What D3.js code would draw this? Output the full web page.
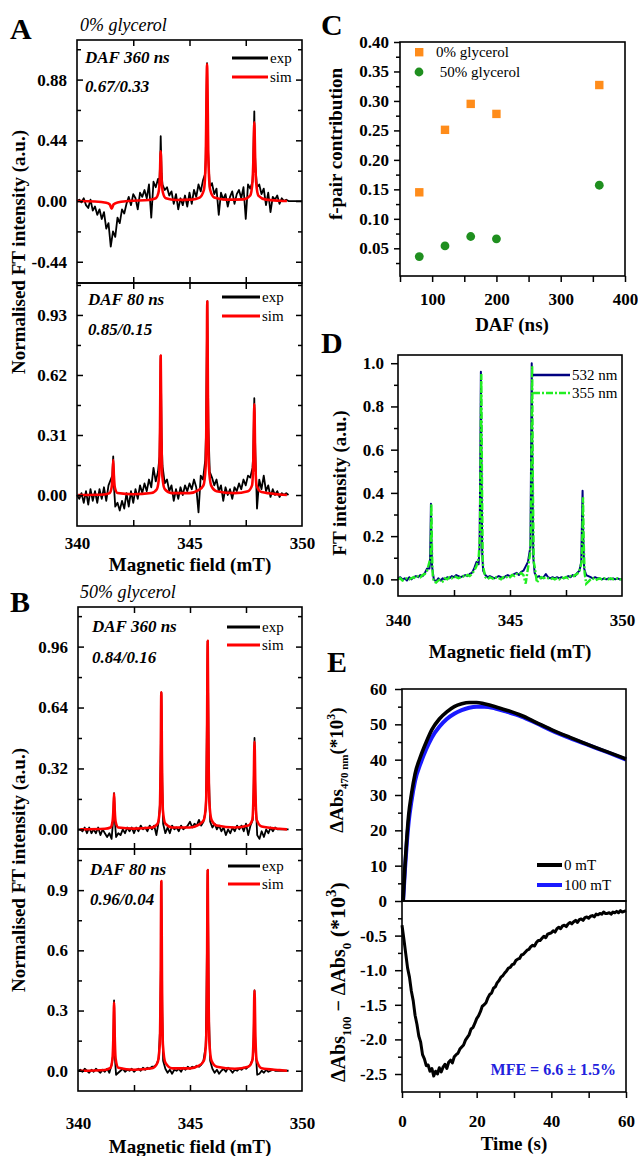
<!DOCTYPE html>
<html>
<head>
<meta charset="utf-8">
<title>FT-EPR spectra and MFE</title>
<script src="https://d3js.org/d3.v7.min.js"></script>
<style>
body { margin: 0; background: #fff; }
</style>
</head>
<body>
<script>
// ---------- data ----------
// exp spectra: values on a 0.1 mT grid from 340.0 to 350.0, plus the peak points
const expA1Grid = [
  0.00, 0.01, -0.01, 0.02, -0.03, -0.05, 0.01, -0.07, -0.04, -0.10,
  -0.06, -0.13, -0.08, -0.20, -0.16, -0.33, -0.22, -0.26, -0.12, -0.16,
  -0.06, -0.09, -0.02, 0.03, -0.03, 0.05, 0.02, -0.06, 0.06, 0.03,
  0.08, 0.02, 0.12, -0.12, 0.14, 0.10, 0.16, 0.30, 0.12, 0.08,
  0.10, 0.04, 0.07, -0.02, 0.05, -0.06, 0.02, -0.03, 0.04, -0.04,
  0.06, -0.02, 0.08, 0.03, 0.12, 0.07, 0.15, 0.20, 0.60, 0.10,
  0.13, 0.05, 0.09, -0.10, 0.06, 0.01, 0.05, -0.04, 0.03, 0.07,
  -0.02, 0.05, 0.08, 0.02, 0.10, -0.13, 0.12, 0.09, 0.14, 0.40,
  0.10, 0.12, 0.05, 0.09, -0.03, 0.06, -0.08, 0.03, 0.01, 0.04,
  -0.02, 0.02, 0.00, 0.01, 0.00, 0.00, 0.00, 0.00, 0.00, 0.00,
  0.00];
const expA1Peaks = [[343.66, 0.12], [343.72, 0.47], [343.76, 0.2], [345.72, 0.3], [345.78, 1.0], [345.83, 0.35],
  [347.82, 0.2], [347.88, 0.65], [347.93, 0.25]];
const simA1 = [[340.0, 0], [340.8, -0.003], [341.3, -0.012], [341.46, -0.025], [341.54, -0.055], [341.62, -0.025],
  [341.8, -0.01], [342.3, 0], [343.2, 0.008], [343.5, 0.02], [343.62, 0.06], [343.68, 0.16], [343.72, 0.36],
  [343.76, 0.16], [343.82, 0.06], [343.95, 0.02], [344.4, 0.008], [345.1, 0.01], [345.45, 0.025], [345.64, 0.08],
  [345.72, 0.3], [345.78, 0.99], [345.84, 0.3], [345.92, 0.08], [346.1, 0.025], [346.6, 0.01], [347.4, 0.012],
  [347.7, 0.04], [347.8, 0.14], [347.84, 0.3], [347.88, 0.57], [347.92, 0.3], [347.96, 0.14], [348.06, 0.04],
  [348.4, 0.01], [349.0, 0.002], [349.33, 0]];

const expA2Grid = [
  0.00, -0.02, 0.01, -0.04, 0.02, -0.05, 0.03, -0.03, 0.02, -0.04,
  0.03, -0.02, 0.04, -0.03, 0.05, 0.08, 0.17, -0.06, -0.04, -0.08,
  -0.03, -0.07, 0.01, -0.06, 0.02, -0.04, 0.03, -0.02, 0.05, 0.01,
  0.06, 0.02, 0.08, 0.04, 0.14, 0.07, 0.12, 0.45, 0.15, 0.06,
  0.08, 0.02, 0.05, -0.03, 0.03, -0.02, 0.04, 0.00, 0.05, 0.02,
  0.06, 0.03, 0.08, 0.04, -0.09, 0.10, 0.08, 0.18, 0.70, 0.12,
  0.09, 0.05, 0.08, 0.02, 0.05, -0.03, 0.04, 0.00, 0.03, -0.02,
  0.04, 0.02, 0.06, 0.03, 0.08, 0.05, 0.10, 0.09, 0.14, 0.35,
  -0.07, 0.08, 0.03, 0.10, 0.02, 0.05, -0.01, 0.03, 0.00, 0.02,
  -0.01, 0.01, 0.00, 0.01, 0.00, 0.00, 0.00, 0.00, 0.00, 0.00,
  0.00];
const expA2Peaks = [[341.57, 0.1], [341.61, 0.2], [341.64, 0.05], [343.67, 0.2], [343.72, 0.72], [343.76, 0.3],
  [345.73, 0.3], [345.79, 1.0], [345.84, 0.35], [347.83, 0.2], [347.88, 0.5], [347.93, 0.2]];
const simA2 = [[340.05, 0], [341.2, 0.003], [341.45, 0.01], [341.54, 0.04], [341.58, 0.1], [341.61, 0.18],
  [341.64, 0.1], [341.68, 0.04], [341.8, 0.01], [342.5, 0.004], [343.3, 0.01], [343.55, 0.03], [343.65, 0.1],
  [343.69, 0.35], [343.72, 0.72], [343.75, 0.35], [343.79, 0.1], [343.9, 0.03], [344.2, 0.01], [345.0, 0.01],
  [345.4, 0.025], [345.62, 0.05], [345.72, 0.15], [345.76, 0.5], [345.79, 1.0], [345.82, 0.5], [345.86, 0.15],
  [345.96, 0.05], [346.2, 0.02], [347.0, 0.01], [347.6, 0.02], [347.78, 0.05], [347.84, 0.2], [347.88, 0.47],
  [347.92, 0.2], [347.98, 0.05], [348.2, 0.015], [349.0, 0.003], [349.33, 0]];

const expB1Grid = [
  0.00, 0.00, -0.01, 0.01, -0.02, 0.01, -0.02, 0.00, -0.02, 0.01,
  -0.03, 0.00, -0.02, -0.04, -0.02, -0.05, 0.10, -0.04, -0.02, -0.03,
  0.00, -0.02, 0.01, -0.01, 0.01, -0.02, 0.01, -0.01, 0.02, 0.00,
  0.01, -0.01, 0.02, 0.00, 0.02, -0.03, 0.04, 0.45, 0.03, -0.02,
  0.01, -0.02, 0.02, 0.00, 0.01, -0.01, 0.02, 0.00, 0.01, 0.02,
  0.04, 0.01, 0.03, 0.02, 0.05, 0.02, 0.04, 0.10, 0.70, 0.04,
  0.01, 0.03, 0.00, 0.02, -0.01, 0.01, -0.03, 0.00, -0.02, 0.01,
  -0.01, 0.02, 0.00, 0.02, -0.01, 0.03, -0.03, 0.02, 0.05, 0.30,
  -0.03, -0.05, -0.01, -0.04, 0.00, -0.02, 0.01, -0.01, 0.01, 0.00,
  0.00, 0.00, 0.00, 0.00, 0.00, 0.00, 0.00, 0.00, 0.00, 0.00,
  0.00];
const expB1Peaks = [[341.57, 0.05], [341.61, 0.19], [341.65, 0.04], [343.67, 0.15], [343.72, 0.72], [343.76, 0.25],
  [345.73, 0.25], [345.79, 0.99], [345.84, 0.3], [347.83, 0.12], [347.88, 0.48], [347.92, 0.18]];
const simB1 = [[340.1, 0], [341.2, 0.003], [341.45, 0.01], [341.54, 0.04], [341.58, 0.1], [341.61, 0.19],
  [341.64, 0.1], [341.68, 0.04], [341.8, 0.01], [342.5, 0.004], [343.3, 0.01], [343.55, 0.03], [343.65, 0.1],
  [343.69, 0.35], [343.72, 0.72], [343.75, 0.35], [343.79, 0.1], [343.9, 0.03], [344.2, 0.01], [345.0, 0.01],
  [345.4, 0.025], [345.62, 0.05], [345.72, 0.15], [345.76, 0.5], [345.79, 0.99], [345.82, 0.5], [345.86, 0.15],
  [345.96, 0.05], [346.2, 0.02], [347.0, 0.01], [347.6, 0.02], [347.78, 0.05], [347.84, 0.2], [347.88, 0.46],
  [347.92, 0.2], [347.98, 0.05], [348.2, 0.015], [349.0, 0.003], [349.33, 0]];

const expB2Grid = [
  0.000, 0.005, -0.005, 0.010, 0.000, -0.010, 0.005, -0.005, 0.010, 0.000,
  -0.010, 0.005, -0.005, 0.010, -0.010, 0.030, 0.200, -0.020, -0.010, 0.000,
  0.010, -0.005, 0.005, 0.000, 0.010, -0.005, 0.005, 0.010, 0.000, 0.015,
  0.005, 0.015, 0.010, 0.020, 0.020, 0.030, 0.060, 0.500, 0.050, 0.010,
  -0.010, 0.005, -0.015, 0.005, 0.000, 0.010, -0.005, 0.015, 0.005, 0.020,
  0.010, 0.020, 0.015, 0.025, 0.020, 0.030, 0.050, 0.120, 0.600, 0.050,
  0.010, -0.010, 0.005, -0.015, 0.000, 0.010, -0.005, 0.015, 0.005, -0.010,
  0.005, 0.000, 0.010, 0.005, 0.015, 0.010, 0.020, 0.030, 0.060, 0.200,
  -0.020, -0.015, 0.000, -0.010, 0.005, -0.005, 0.000, 0.005, 0.000, 0.000,
  0.000, 0.000, 0.000, 0.000, 0.000, 0.000, 0.000, 0.000, 0.000, 0.000,
  0.000];
const expB2Peaks = [[341.57, 0.08], [341.61, 0.35], [341.65, 0.06], [343.67, 0.22], [343.72, 0.94], [343.76, 0.3],
  [345.73, 0.3], [345.79, 1.0], [345.84, 0.3], [347.83, 0.1], [347.88, 0.4], [347.92, 0.12]];
const simB2 = [[340.1, 0], [341.2, 0.004], [341.45, 0.015], [341.54, 0.06], [341.58, 0.17], [341.61, 0.34],
  [341.64, 0.17], [341.68, 0.06], [341.8, 0.015], [342.5, 0.005], [343.3, 0.012], [343.55, 0.04], [343.65, 0.13],
  [343.69, 0.45], [343.72, 0.945], [343.75, 0.45], [343.79, 0.13], [343.9, 0.04], [344.2, 0.012], [345.0, 0.012],
  [345.4, 0.025], [345.62, 0.05], [345.72, 0.15], [345.76, 0.5], [345.79, 1.0], [345.82, 0.5], [345.86, 0.15],
  [345.96, 0.05], [346.2, 0.02], [347.0, 0.01], [347.6, 0.02], [347.78, 0.05], [347.84, 0.17], [347.88, 0.40],
  [347.92, 0.17], [347.98, 0.05], [348.2, 0.012], [349.0, 0.003], [349.33, 0]];

// panel C
const dafNs = [80, 120, 160, 200, 360];
const fpair0 = [0.145, 0.251, 0.295, 0.278, 0.327];
const fpair50 = [0.036, 0.054, 0.070, 0.066, 0.157];

// panel D (same 0.1 mT grid)
const blueDGrid = [
  0.005, 0.010, 0.000, 0.005, -0.005, 0.010, 0.000, 0.010, 0.015, 0.010,
  0.020, 0.015, 0.030, 0.050, 0.050, 0.100, 0.000, -0.010, 0.005, -0.005,
  0.005, 0.000, 0.010, 0.005, 0.015, 0.010, 0.020, 0.015, 0.010, 0.015,
  0.020, 0.015, 0.025, 0.030, 0.050, 0.080, 0.070, 0.900, 0.040, 0.020,
  0.010, 0.015, 0.010, 0.005, 0.010, 0.015, 0.010, 0.005, 0.015, 0.020,
  0.015, 0.020, 0.025, 0.030, 0.020, 0.035, 0.040, 0.060, 0.080, 0.100,
  0.900, 0.030, 0.010, 0.015, 0.005, 0.010, 0.025, 0.010, 0.005, 0.010,
  0.005, 0.010, 0.005, 0.010, 0.005, 0.010, 0.015, 0.010, 0.020, 0.015,
  0.030, 0.040, 0.300, 0.200, 0.020, 0.015, 0.010, 0.005, 0.010, 0.005,
  0.005, 0.000, 0.005, 0.000, 0.005, 0.000, 0.005, 0.000, 0.005, 0.000,
  0.000];
const blueDPeaks = [[341.43, 0.08], [341.45, 0.2], [341.47, 0.35], [341.49, 0.2], [341.52, 0.06],
  [343.64, 0.15], [343.67, 0.5], [343.7, 0.96], [343.73, 0.5], [343.76, 0.12],
  [345.91, 0.15], [345.94, 0.55], [345.97, 1.0], [346.0, 0.5], [346.04, 0.1],
  [348.18, 0.08], [348.21, 0.25], [348.24, 0.41], [348.27, 0.2], [348.31, 0.05]];
const greenDGrid = [
  0.000, 0.005, -0.005, 0.000, 0.005, 0.000, 0.005, 0.010, 0.005, 0.015,
  0.010, 0.020, 0.025, 0.040, 0.080, 0.200, -0.010, -0.015, -0.005, 0.000,
  -0.010, 0.005, 0.000, 0.010, 0.005, 0.015, 0.010, 0.005, 0.010, 0.015,
  0.010, 0.020, 0.015, 0.025, 0.040, 0.060, 0.100, 0.900, 0.060, 0.010,
  0.000, 0.010, 0.005, 0.000, 0.010, 0.005, 0.000, 0.010, 0.005, 0.015,
  0.010, 0.020, 0.015, 0.025, 0.020, 0.030, 0.020, -0.020, 0.050, 0.120,
  0.900, 0.060, -0.015, 0.000, 0.010, 0.005, 0.010, 0.005, 0.000, 0.005,
  0.000, 0.005, 0.000, 0.010, 0.005, 0.010, 0.005, 0.015, 0.010, 0.020,
  0.025, 0.040, 0.070, 0.200, -0.020, -0.010, 0.000, 0.005, -0.005, 0.000,
  0.005, 0.000, 0.005, 0.000, 0.000, 0.005, 0.000, 0.000, 0.005, 0.000,
  0.000];
const greenDPeaks = [[341.46, 0.1], [341.49, 0.35], [341.52, 0.12], [341.55, 0.02],
  [343.66, 0.2], [343.69, 0.6], [343.72, 0.95], [343.75, 0.45], [343.78, 0.1],
  [345.93, 0.2], [345.96, 0.6], [345.99, 0.99], [346.02, 0.45], [346.06, 0.08],
  [348.2, 0.08], [348.23, 0.2], [348.26, 0.38], [348.29, 0.18], [348.33, 0.03]];

// panel E
const timeE = [0.3, 0.8, 1.3, 1.8, 2.5, 3.5, 5, 6.5, 8, 10, 12, 14, 16, 18, 20, 22, 25, 28, 32, 36, 40, 45, 50, 55, 60];
const abs0mT = [0, 10, 18, 24.5, 30, 36, 41, 45, 48.5, 51.5, 53.5, 55, 55.8, 56.2, 56.2, 55.8, 55, 54, 52.5, 50.5,
  48.5, 46.3, 44.2, 42.2, 40.2];
const abs100mT = [0, 9, 16.5, 22.5, 28, 34, 39, 43, 46.3, 49.3, 51.5, 53, 54, 54.7, 55, 55, 54.5, 53.6, 52.2, 50.3,
  48.3, 46.1, 44.1, 42.1, 40.0];
// difference trace, 0.5 s steps from 0 to 60 s
const diffE = [
  -0.35, -0.55, -0.76, -0.97, -1.10, -1.30, -1.44, -1.65, -1.78, -1.95,
  -2.04, -2.22, -2.28, -2.38, -2.37, -2.46, -2.42, -2.53, -2.46, -2.50,
  -2.41, -2.47, -2.40, -2.36, -2.42, -2.33, -2.30, -2.34, -2.25, -2.22,
  -2.20, -2.14, -2.11, -2.08, -2.01, -1.97, -1.93, -1.85, -1.83, -1.77,
  -1.70, -1.66, -1.60, -1.52, -1.50, -1.47, -1.40, -1.35, -1.33, -1.26,
  -1.24, -1.18, -1.15, -1.10, -1.08, -1.04, -1.01, -0.97, -0.96, -0.92,
  -0.91, -0.86, -0.84, -0.83, -0.78, -0.77, -0.74, -0.71, -0.70, -0.66,
  -0.64, -0.65, -0.60, -0.57, -0.57, -0.54, -0.51, -0.53, -0.48, -0.47,
  -0.46, -0.43, -0.45, -0.40, -0.38, -0.40, -0.36, -0.35, -0.37, -0.33,
  -0.31, -0.33, -0.30, -0.28, -0.31, -0.27, -0.26, -0.28, -0.24, -0.23,
  -0.25, -0.22, -0.21, -0.23, -0.19, -0.20, -0.18, -0.19, -0.16, -0.18,
  -0.18, -0.17, -0.19, -0.16, -0.17, -0.15, -0.17, -0.14, -0.16, -0.15,
  -0.14];

// ticks
const fieldTicks = [342.5, 345, 347.5];
const fieldLabels = [340, 345, 350];
const tickA1 = [-0.44, 0, 0.44, 0.88], minorA1 = [-0.22, 0.22, 0.66, 1.10];
const tickA2 = [0, 0.31, 0.62, 0.93], minorA2 = [0.155, 0.465, 0.775, 1.085];
const tickB1 = [0, 0.32, 0.64, 0.96], minorB1 = [0.16, 0.48, 0.80, 1.12];
const tickB2 = [0, 0.3, 0.6, 0.9], minorB2 = [0.15, 0.45, 0.75, 1.05];
const tickC = [0.05, 0.10, 0.15, 0.20, 0.25, 0.30, 0.35, 0.40];
const minorC = [0.025, 0.075, 0.125, 0.175, 0.225, 0.275, 0.325, 0.375];
const dafTicks = [50, 100, 150, 200, 250, 300, 350, 400];
const dafLabels = [100, 200, 300, 400];
const tickD = [0, 0.2, 0.4, 0.6, 0.8, 1.0], minorD = [0.1, 0.3, 0.5, 0.7, 0.9];
const timeTicks = [0, 10, 20, 30, 40, 50, 60], timeLabels = [0, 20, 40, 60];
const tickE1 = [0, 10, 20, 30, 40, 50, 60], minorE1 = [5, 15, 25, 35, 45, 55];
const tickE2 = [-2.5, -2.0, -1.5, -1.0, -0.5], minorE2 = [-2.25, -1.75, -1.25, -0.75, -0.25];

// ---------- drawing ----------
const SERIF = "'Liberation Serif', 'Times New Roman', serif";
const svg = d3.select("body").append("svg").attr("width", 638).attr("height", 1156);
const fieldGrid = d3.range(0, 101).map(i => 340 + i * 0.1);

function mergeTrace(grid, peaks, xEnd) {
  const pts = grid.map((v, i) => [fieldGrid[i], v])
    .filter(p => p[0] <= xEnd + 1e-6)
    .filter(p => !peaks.some(q => Math.abs(q[0] - p[0]) < 0.012));
  return pts.concat(peaks).sort((a, b) => a[0] - b[0]);
}

function txt(x, y, s, o = {}) {
  return svg.append("text").attr("x", x).attr("y", y).text(s)
    .attr("font-family", SERIF).attr("font-size", o.size || 17)
    .attr("font-weight", o.weight || "bold").attr("font-style", o.style || "normal")
    .attr("text-anchor", o.anchor || "start").attr("fill", o.fill || "#000");
}

function vtxt(x, y, s, size) {
  return svg.append("text").attr("transform", `translate(${x},${y}) rotate(-90)`)
    .attr("text-anchor", "middle").attr("font-family", SERIF).attr("font-size", size || 19)
    .attr("font-weight", "bold").text(s);
}

function axis(gen, tx, ty) {
  const g = svg.append("g").attr("transform", `translate(${tx},${ty})`).call(gen);
  g.select(".domain").remove();
  g.attr("font-family", SERIF).attr("font-size", 17).attr("font-weight", "bold");
  g.selectAll(".tick line").attr("stroke", "#000").attr("stroke-width", 1.5);
  g.selectAll(".tick text").attr("fill", "#000");
  return g;
}

function frame(b) {
  svg.append("rect").attr("x", b.l).attr("y", b.t).attr("width", b.r - b.l).attr("height", b.b - b.t)
    .attr("fill", "none").attr("stroke", "#000").attr("stroke-width", 1.6);
}

function legendLine(x1, x2, y, color, width, dash) {
  svg.append("line").attr("x1", x1).attr("x2", x2).attr("y1", y).attr("y2", y)
    .attr("stroke", color).attr("stroke-width", width).attr("stroke-dasharray", dash || null);
}

// ---- panels A and B ----
const spectra = [
  {box: {l: 77, r: 302, t: 40, b: 283}, dom: [-0.594, 1.167], ticks: tickA1, minor: minorA1,
   exp: mergeTrace(expA1Grid, expA1Peaks, 350), sim: simA1, daf: "DAF 360 ns", ratio: "0.67/0.33",
   tx: 85, ty: 63, ry: 92, lx: [232, 268], ly: [58, 77]},
  {box: {l: 77, r: 302, t: 283, b: 526}, dom: [-0.16, 1.095], ticks: tickA2, minor: minorA2,
   exp: mergeTrace(expA2Grid, expA2Peaks, 349.4), sim: simA2, daf: "DAF 80 ns", ratio: "0.85/0.15",
   tx: 88, ty: 305, ry: 335, lx: [222, 260], ly: [297, 316], labelPad: 11},
  {box: {l: 78, r: 302, t: 607, b: 849}, dom: [-0.103, 1.168], ticks: tickB1, minor: minorB1,
   exp: mergeTrace(expB1Grid, expB1Peaks, 349.4), sim: simB1, daf: "DAF 360 ns", ratio: "0.84/0.16",
   tx: 92, ty: 632, ry: 663, lx: [227, 260], ly: [627, 645]},
  {box: {l: 78, r: 302, t: 849, b: 1091}, dom: [-0.101, 1.105], ticks: tickB2, minor: minorB2,
   exp: mergeTrace(expB2Grid, expB2Peaks, 349.4), sim: simB2, daf: "DAF 80 ns", ratio: "0.96/0.04",
   tx: 90, ty: 875, ry: 905, lx: [228, 260], ly: [866, 884], labelPad: 26}
];

spectra.forEach(p => {
  const b = p.box;
  const x = d3.scaleLinear().domain([340, 350]).range([b.l, b.r]);
  const y = d3.scaleLinear().domain(p.dom).range([b.b, b.t]);
  const expLine = d3.line().x(d => x(d[0])).y(d => y(d[1]));
  const simLine = d3.line().x(d => x(d[0])).y(d => y(d[1])).curve(d3.curveMonotoneX);
  svg.append("path").datum(p.exp).attr("d", expLine).attr("fill", "none")
    .attr("stroke", "#000").attr("stroke-width", 1.8).attr("stroke-linejoin", "round");
  svg.append("path").datum(p.sim).attr("d", simLine).attr("fill", "none")
    .attr("stroke", "#ff0000").attr("stroke-width", 2.6).attr("stroke-linejoin", "round");
  frame(b);
  // ticks all point inwards
  axis(d3.axisRight(y).tickValues(p.ticks).tickSize(6).tickFormat(""), b.l, 0);
  axis(d3.axisRight(y).tickValues(p.minor).tickSize(4).tickFormat(""), b.l, 0);
  axis(d3.axisLeft(y).tickValues(p.ticks).tickSize(6).tickFormat(""), b.r, 0);
  axis(d3.axisLeft(y).tickValues(p.minor).tickSize(4).tickFormat(""), b.r, 0);
  axis(d3.axisLeft(y).tickValues(p.ticks).tickSize(0).tickPadding(10).tickFormat(d => d.toFixed(p.ticks === tickB2 ? 1 : 2)), b.l, 0);
  axis(d3.axisBottom(x).tickValues(fieldTicks).tickSize(6).tickFormat(""), 0, b.t);
  axis(d3.axisTop(x).tickValues(fieldTicks).tickSize(6).tickFormat(""), 0, b.b);
  if (p.labelPad) {
    axis(d3.axisBottom(x).tickValues(fieldLabels).tickSize(0).tickPadding(p.labelPad).tickFormat(d3.format("d")), 0, b.b);
  }
  txt(p.tx, p.ty, p.daf, {style: "italic"});
  txt(p.tx, p.ry, p.ratio, {style: "italic"});
  legendLine(p.lx[0], p.lx[1], p.ly[0], "#000", 3);
  legendLine(p.lx[0], p.lx[1], p.ly[1], "#ff0000", 3);
  txt(p.lx[1] + 2, p.ly[0] + 5, "exp", {weight: "normal", size: 15});
  txt(p.lx[1] + 2, p.ly[1] + 5, "sim", {weight: "normal", size: 15});
});

txt(10, 39, "A", {size: 30});
txt(80, 31, "0% glycerol", {weight: "normal", style: "italic", size: 18});
vtxt(25, 252, "Normalised FT intensity (a.u.)", 19);
txt(190, 571, "Magnetic field (mT)", {anchor: "middle", size: 19});

txt(10, 612, "B", {size: 30});
txt(80, 598, "50% glycerol", {weight: "normal", style: "italic", size: 18});
vtxt(25, 870, "Normalised FT intensity (a.u.)", 19);
txt(190, 1153, "Magnetic field (mT)", {anchor: "middle", size: 19});

// ---- panel C ----
{
  const b = {l: 400, r: 625, t: 42, b: 276};
  const x = d3.scaleLinear().domain([50, 400]).range([b.l, b.r]);
  const y = d3.scaleLinear().domain([0.003, 0.40]).range([b.b, b.t]);
  svg.append("g").selectAll("rect").data(dafNs).join("rect")
    .attr("x", (d, i) => x(d) - 4.2).attr("y", (d, i) => y(fpair0[i]) - 4.2)
    .attr("width", 8.4).attr("height", 8.4).attr("fill", "#ff8c1a");
  svg.append("g").selectAll("circle").data(dafNs).join("circle")
    .attr("cx", d => x(d)).attr("cy", (d, i) => y(fpair50[i])).attr("r", 4.4).attr("fill", "#1f8f1f");
  frame(b);
  axis(d3.axisLeft(y).tickValues(tickC).tickSize(6).tickPadding(5).tickFormat(d => d.toFixed(2)), b.l, 0);
  axis(d3.axisLeft(y).tickValues(minorC).tickSize(4).tickFormat(""), b.l, 0);
  axis(d3.axisBottom(x).tickValues(dafTicks).tickSize(6).tickPadding(11)
    .tickFormat(d => dafLabels.includes(d) ? d : ""), 0, b.b);
  svg.append("rect").attr("x", 415).attr("y", 48).attr("width", 8.4).attr("height", 8.4).attr("fill", "#ff8c1a");
  svg.append("circle").attr("cx", 419).attr("cy", 72).attr("r", 4.4).attr("fill", "#1f8f1f");
  txt(436, 57, "0% glycerol", {weight: "normal", size: 15});
  txt(436, 77, " 50% glycerol", {weight: "normal", size: 15}).attr("xml:space", "preserve");
  txt(321, 35, "C", {size: 30});
  vtxt(342, 144, "f-pair contribution", 19);
  txt(512, 331, "DAF (ns)", {anchor: "middle", size: 19});
}

// ---- panel D ----
{
  const b = {l: 398, r: 622, t: 355, b: 596};
  const x = d3.scaleLinear().domain([340, 350]).range([b.l, b.r]);
  const y = d3.scaleLinear().domain([-0.077, 1.038]).range([b.b, b.t]);
  const line = d3.line().x(d => x(d[0])).y(d => y(d[1]));
  svg.append("path").datum(mergeTrace(blueDGrid, blueDPeaks, 350)).attr("d", line).attr("fill", "none")
    .attr("stroke", "#000080").attr("stroke-width", 2).attr("stroke-linejoin", "round");
  svg.append("path").datum(mergeTrace(greenDGrid, greenDPeaks, 350)).attr("d", line).attr("fill", "none")
    .attr("stroke", "#22ee22").attr("stroke-width", 2.4).attr("stroke-dasharray", "7,2,2,2");
  frame(b);
  axis(d3.axisLeft(y).tickValues(tickD).tickSize(7).tickPadding(7).tickFormat(d => d.toFixed(1)), b.l, 0);
  axis(d3.axisLeft(y).tickValues(minorD).tickSize(4).tickFormat(""), b.l, 0);
  axis(d3.axisTop(x).tickValues(fieldTicks).tickSize(6).tickFormat(""), 0, b.b);
  axis(d3.axisBottom(x).tickValues(fieldLabels).tickSize(0).tickPadding(18).tickFormat(d3.format("d")), 0, b.b);
  legendLine(533, 570, 375, "#000080", 2.5);
  legendLine(533, 570, 393, "#22ee22", 2.5, "7,2,2,2");
  txt(572, 380, "532 nm", {weight: "normal", size: 15});
  txt(572, 398, "355 nm", {weight: "normal", size: 15});
  txt(321, 353, "D", {size: 30});
  vtxt(346, 483, "FT intensity (a.u.)", 19);
  txt(510, 658, "Magnetic field (mT)", {anchor: "middle", size: 19});
}

// ---- panel E ----
{
  const b1 = {l: 402, r: 626, t: 689, b: 901};
  const b2 = {l: 402, r: 626, t: 901, b: 1092};
  const x = d3.scaleLinear().domain([0, 60]).range([b1.l, b1.r]);
  const y1 = d3.scaleLinear().domain([0, 60]).range([b1.b, b1.t]);
  const y2 = d3.scaleLinear().domain([-2.76, 0]).range([b2.b, b2.t]);
  const line1 = d3.line().x((d, i) => x(timeE[i])).y(d => y1(d)).curve(d3.curveMonotoneX);
  svg.append("path").datum(abs100mT).attr("d", line1).attr("fill", "none")
    .attr("stroke", "#1a1aff").attr("stroke-width", 4);
  svg.append("path").datum(abs0mT).attr("d", line1).attr("fill", "none")
    .attr("stroke", "#000").attr("stroke-width", 3.6);
  const line2 = d3.line().x((d, i) => x(i * 0.5)).y(d => y2(d));
  svg.append("path").datum(diffE).attr("d", line2).attr("fill", "none")
    .attr("stroke", "#000").attr("stroke-width", 3).attr("stroke-linejoin", "round");
  frame(b1);
  frame(b2);
  axis(d3.axisLeft(y1).tickValues(tickE1).tickSize(7).tickPadding(8).tickFormat(d3.format("d")), b1.l, 0);
  axis(d3.axisLeft(y1).tickValues(minorE1).tickSize(4).tickFormat(""), b1.l, 0);
  axis(d3.axisLeft(y2).tickValues(tickE2).tickSize(7).tickPadding(8).tickFormat(d => d.toFixed(1)), b2.l, 0);
  axis(d3.axisLeft(y2).tickValues(minorE2).tickSize(4).tickFormat(""), b2.l, 0);
  axis(d3.axisBottom(x).tickValues(timeTicks).tickSize(6).tickPadding(17)
    .tickFormat(d => timeLabels.includes(d) ? d : ""), 0, b2.b);
  legendLine(537, 562, 865, "#000", 4);
  legendLine(537, 562, 885, "#1a1aff", 4);
  txt(564, 870, "0 mT", {weight: "normal", size: 15});
  txt(564, 890, "100 mT", {weight: "normal", size: 15});
  txt(616, 1075, "MFE = 6.6 \u00b1 1.5%", {anchor: "end", size: 16, fill: "#2222dd"});
  txt(327, 672, "E", {size: 30});
  txt(514, 1150, "Time (s)", {anchor: "middle", size: 19});

  const t1 = svg.append("text").attr("transform", "translate(343,770) rotate(-90)")
    .attr("text-anchor", "middle").attr("font-family", SERIF).attr("font-weight", "bold").attr("font-size", 19);
  t1.append("tspan").text("\u0394Abs");
  t1.append("tspan").attr("dy", 5).attr("font-size", 11).text("470 nm");
  t1.append("tspan").attr("dy", -5).text("(*10");
  t1.append("tspan").attr("dy", -8).attr("font-size", 12).text("3");
  t1.append("tspan").attr("dy", 8).text(")");

  const t2 = svg.append("text").attr("transform", "translate(345,982) rotate(-90)")
    .attr("text-anchor", "middle").attr("font-family", SERIF).attr("font-weight", "bold").attr("font-size", 20);
  t2.append("tspan").text("\u0394Abs");
  t2.append("tspan").attr("dy", 6).attr("font-size", 13).text("100");
  t2.append("tspan").attr("dy", -6).text(" \u2212 \u0394Abs");
  t2.append("tspan").attr("dy", 6).attr("font-size", 13).text("0");
  t2.append("tspan").attr("dy", -6).attr("font-size", 22).text(" (*10");
  t2.append("tspan").attr("dy", -9).attr("font-size", 15).text("3");
  t2.append("tspan").attr("dy", 9).attr("font-size", 22).text(")");
}
</script>
</body>
</html>
